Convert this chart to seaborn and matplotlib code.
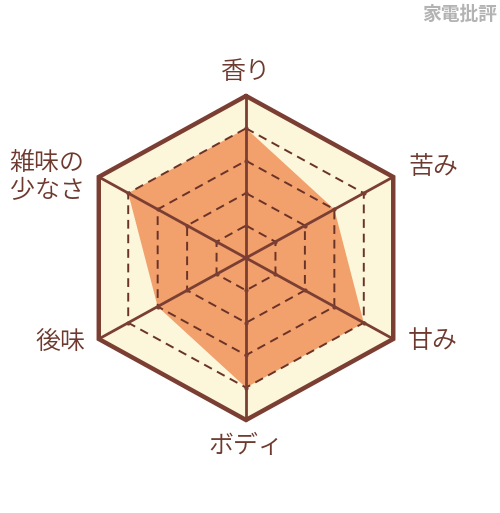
import numpy as np
import pandas as pd
import matplotlib
matplotlib.use("Agg")
import matplotlib.pyplot as plt
import seaborn as sns

categories = ["香り", "苦み", "甘み", "ボディ", "後味", "雑味の\n少なさ"]
values = [4, 3, 4, 4, 3, 4]
levels = [1, 2, 3, 4]
max_level = 5

sns.set_theme(style="white")
plt.rcParams['font.family'] = ['Noto Sans CJK JP', 'DejaVu Sans']

BROWN = "#7A3E33"
TEXT = "#6E3A2F"
ORANGE = "#F2A06C"
CREAM = "#FCF6DA"

fig = plt.figure(figsize=(5.0, 5.13), dpi=100)
ax = fig.add_axes([0, 0, 1, 1])
ax.set_xlim(-7.235, 7.47)
ax.set_ylim(-7.87, 7.96)
ax.axis("off")

n = len(categories)
ang = np.pi / 2 - np.arange(n) * 2 * np.pi / n


def pts(r):
    r = np.asarray(r, dtype=float)
    x = r * np.cos(ang)
    y = r * np.sin(ang)
    return np.append(x, x[0]), np.append(y, y[0])


# outer cream hexagon
ox, oy = pts([max_level] * n)
ax.fill(ox, oy, color=CREAM, zorder=1)

# data polygon
dx, dy = pts(values)
ax.fill(dx, dy, color=ORANGE, zorder=2, lw=0)

# dashed rings
for lv in levels:
    rx, ry = pts([lv] * n)
    ring = pd.DataFrame({"x": rx, "y": ry})
    sns.lineplot(data=ring, x="x", y="y", sort=False, estimator=None, ax=ax,
                 color="#6A3328", lw=1.4, linestyle=(0, (4.5, 3)), zorder=3)
    sns.scatterplot(x=rx[:-1], y=ry[:-1], ax=ax, color=BROWN, s=9,
                    linewidth=0, zorder=4)

# axis spokes
for i in range(n):
    ax.plot([0, ox[i]], [0, oy[i]], color=BROWN, lw=2.0, zorder=4,
            solid_capstyle="round")

# outer outline
ax.plot(ox, oy, color=BROWN, lw=3.2, zorder=5, solid_joinstyle="miter")

# labels
label_pos = [(0, 5.75), (5.5, 2.8), (5.5, -2.55), (0, -5.8), (-5.45, -2.6), (-5.85, 2.5)]
for cat, (lx, ly) in zip(categories, label_pos):
    ax.text(lx, ly, cat, ha="center", va="center", fontsize=18,
            color=TEXT, linespacing=1.1, zorder=6, fontweight=350)

# watermark
ax.text(0.995, 0.99, "家電批評", transform=ax.transAxes, ha="right", va="top",
        fontsize=13.5, color="#B3B3B3", fontweight="bold")

fig.savefig("out.png", dpi=100, facecolor="white")
